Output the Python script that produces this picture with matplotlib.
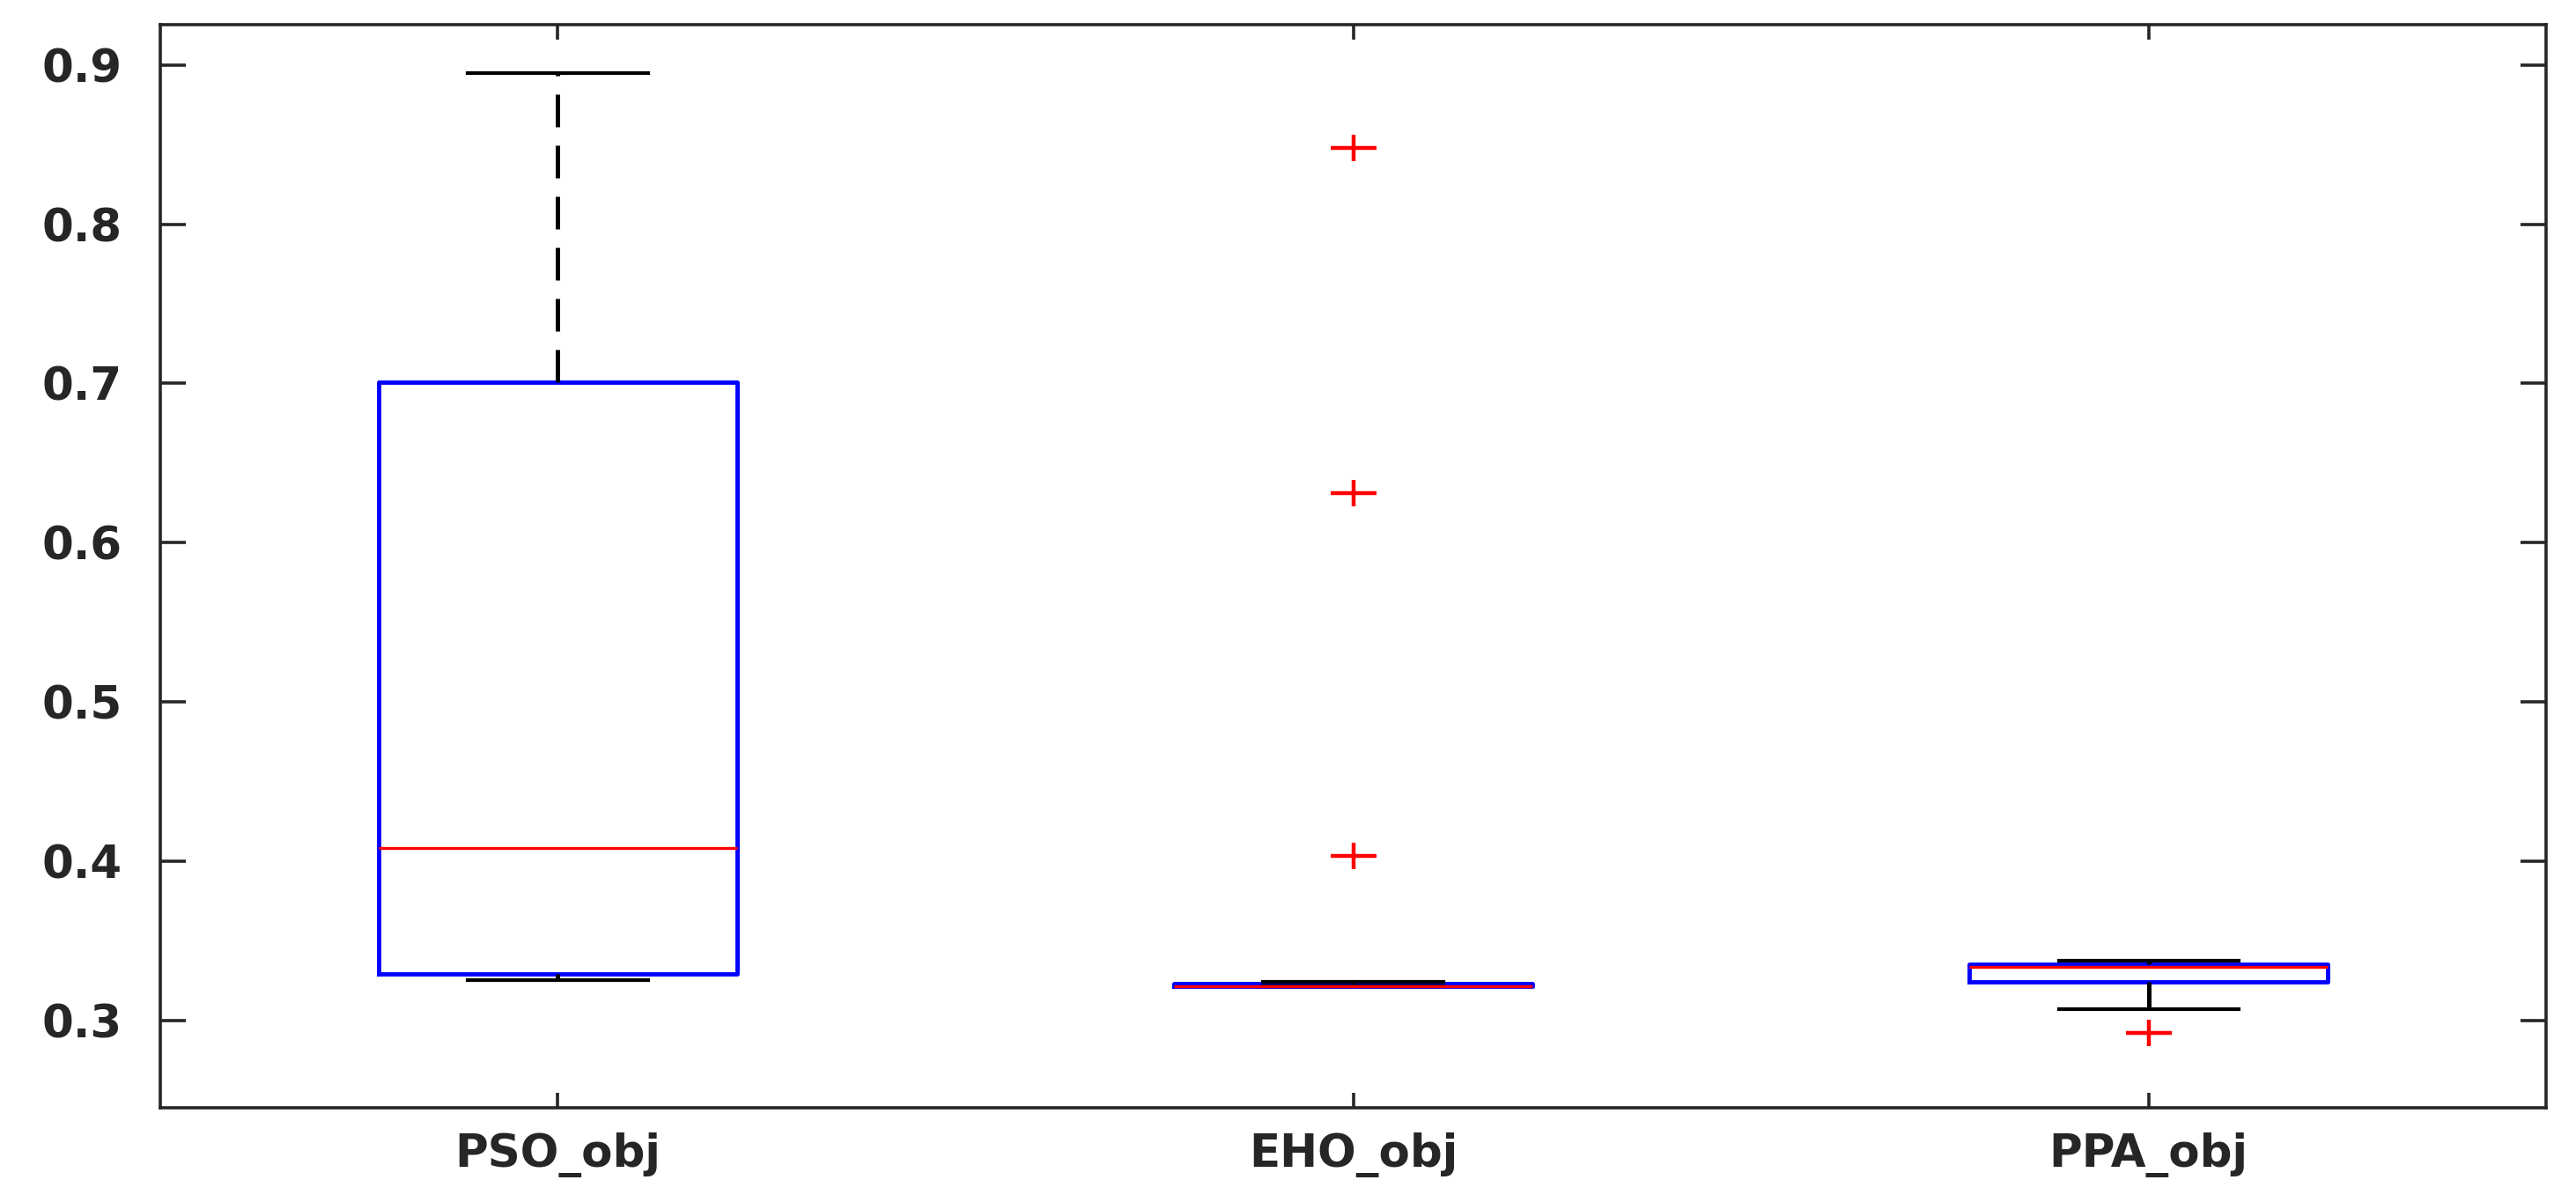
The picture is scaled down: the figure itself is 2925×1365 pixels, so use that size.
import numpy as np
import matplotlib.pyplot as plt
from matplotlib.path import Path

# box statistics (MATLAB-style boxplot)
labels = ["PSO_obj", "EHO_obj", "PPA_obj"]
whislo = [0.3254, 0.3215, 0.3072]
q1 = [0.3293, 0.3215, 0.3239]
med = [0.408, 0.3215, 0.3333]
q3 = [0.7008, 0.3230, 0.3354]
whishi = [0.895, 0.3239, 0.3372]
fliers = [[], [0.403, 0.631, 0.848], [0.2919]]

stats = []
for i in range(len(labels)):
    stats.append(dict(label=labels[i], whislo=whislo[i], q1=q1[i], med=med[i],
                      q3=q3[i], whishi=whishi[i], fliers=np.array(fliers[i])))

# wide "+" marker like the stretched original
plus = Path([(-1, 0), (1, 0), (0, -0.59), (0, 0.59)],
            [Path.MOVETO, Path.LINETO, Path.MOVETO, Path.LINETO])

fig = plt.figure(figsize=(29.25, 13.65), dpi=100)
ax = fig.add_axes([0.0622, 0.0784, 0.9262, 0.9011])

ax.bxp(stats, positions=[1, 2, 3], widths=0.45, capwidths=0.226,
       boxprops=dict(color='blue', linewidth=3.5),
       medianprops=dict(color='red', linewidth=2.4),
       whiskerprops=dict(color='black', linewidth=3.6, linestyle=(0, (7.4, 4.2))),
       capprops=dict(color='black', linewidth=3.0),
       flierprops=dict(marker=plus, markeredgecolor='red', markerfacecolor='none',
                       markersize=37, markeredgewidth=3.2, linestyle='none'))

ax.set_xlim(0.5, 3.5)
ax.set_ylim(0.245, 0.9254)
ax.set_yticks([0.3, 0.4, 0.5, 0.6, 0.7, 0.8, 0.9])
ax.set_xticks([1, 2, 3])
ax.set_xticklabels(labels)

for s in ax.spines.values():
    s.set_linewidth(2.6)
    s.set_color('#262626')
ax.tick_params(axis='y', direction='in', length=21, width=2.6, color='#262626',
               left=True, right=True, labelsize=37, labelcolor='#262626', pad=31)
ax.tick_params(axis='x', direction='in', length=12, width=2.6, color='#262626',
               bottom=True, top=True, labelsize=37, labelcolor='#262626', pad=20)
for t in ax.get_xticklabels() + ax.get_yticklabels():
    t.set_fontweight('bold')

plt.savefig("out.png", dpi=100)
